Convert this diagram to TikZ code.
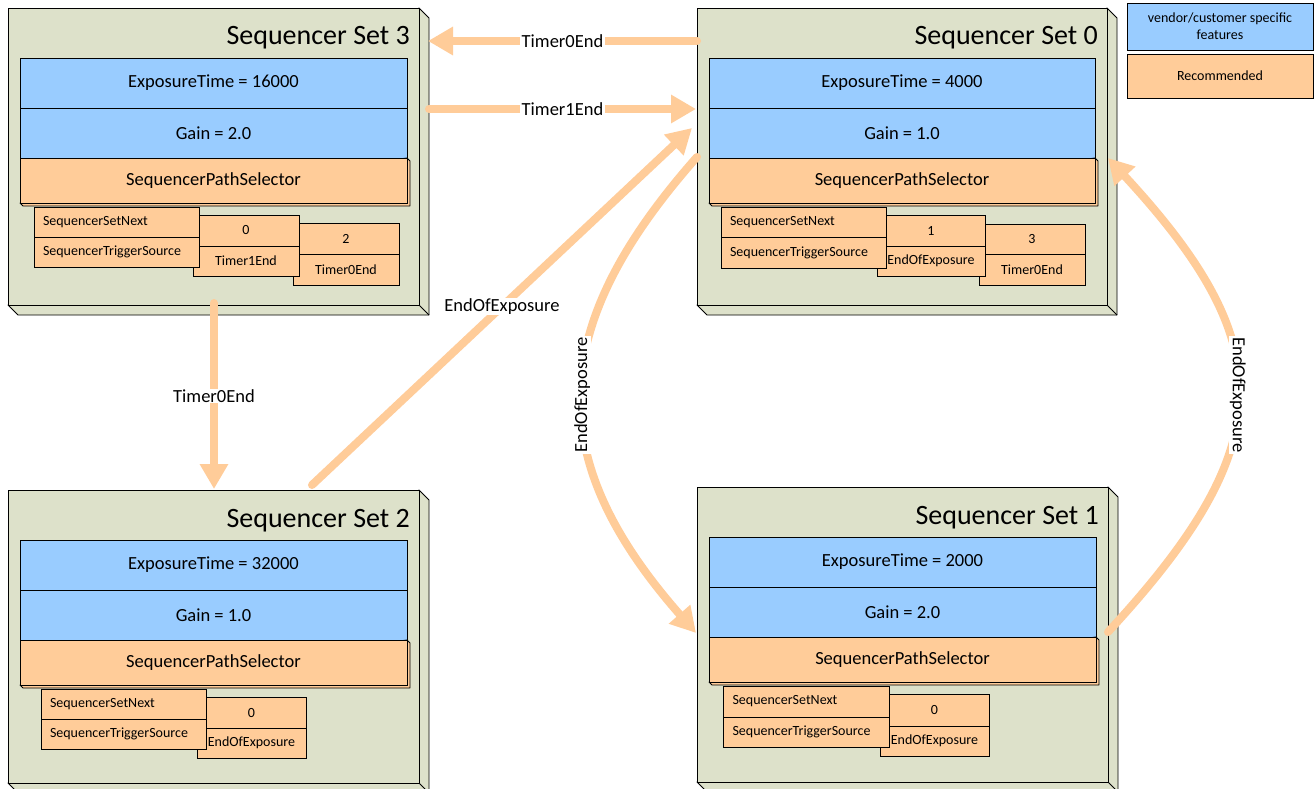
\documentclass[tikz,border=0pt]{standalone}
\usepackage{fontspec}
\setmainfont{Carlito}
\usetikzlibrary{arrows.meta}
\definecolor{boxc}{RGB}{221,225,202}
\definecolor{bluec}{RGB}{153,204,255}
\definecolor{orc}{RGB}{255,204,153}
\tikzset{
 faceline/.style={draw=black, line width=0.8pt, line join=round},
 setbox/.style={draw=black, fill=boxc, line width=0.8pt, inner sep=0pt, outer sep=0pt, anchor=north west},
 rowbox/.style={draw=black, line width=0.8pt, inner sep=0pt, outer sep=0pt, anchor=north west, font=\fontsize{18.5}{22}\selectfont},
 cellbox/.style={draw=black, fill=orc, line width=0.8pt, inner sep=0pt, outer sep=0pt, anchor=north west, font=\fontsize{14}{16}\selectfont},
 lcell/.style={align=left, text width=147pt, inner xsep=9pt},
 ccell/.style={align=center},
 arr/.style={draw=orc, line width=8pt, line cap=round, -{Triangle[length=25pt,width=27pt]}},
 lab/.style={fill=white, inner xsep=1.5pt, inner ysep=1pt, font=\fontsize{18.5}{22}\selectfont, text=black},
}
% #1 name #2 X #3 Y #4 X2 #5 Y2 #6 number #7 exposure #8 gain
\newcommand\seqset[8]{%
 \filldraw[fill=boxc, faceline] (#4,#3) -- (#4+10,#3+10) -- (#4+10,#5+10) -- (#2+10,#5+10) -- (#2,#5) -- cycle;
 \draw[faceline] (#4,#5) -- (#4+10,#5+10);
 \node[setbox, minimum width={(#4-#2)*1pt}, minimum height={(#5-#3)*1pt}] (#1) at (#2,#3) {};
 \node[anchor=base east, inner sep=0pt, font=\fontsize{28}{32}\selectfont] (#1-title) at (#4-9,#3+37) {Sequencer Set #6};
 \node[rowbox, fill=bluec, minimum width={(#4-#2-24)*1pt}, minimum height=50pt] (#1-exp) at (#2+12,#3+50) {ExposureTime = #7};
 \node[rowbox, fill=bluec, minimum width={(#4-#2-24)*1pt}, minimum height=50pt] (#1-gain) at (#2+12,#3+100) {Gain = #8};
 \filldraw[fill=orc, faceline] (#4-12,#3+150) -- (#4-9,#3+153) -- (#4-9,#3+198) -- (#2+15,#3+198) -- (#2+12,#3+195) -- cycle;
 \node[rowbox, fill=orc, minimum width={(#4-#2-24)*1pt}, minimum height=45pt] (#1-path) at (#2+12,#3+150) {SequencerPathSelector};
}
% #1 style #2 name #3 x1 #4 y1 #5 x2 #6 ymid #7 y2 #8 top #9 bottom
\newcommand\cellpair[9]{%
 \node[cellbox, #1, minimum width={(#5-#3)*1pt}, minimum height={(#6-#4)*1pt}] (#2t) at (#3,#4) {#8};
 \node[cellbox, #1, minimum width={(#5-#3)*1pt}, minimum height={(#7-#6)*1pt}] (#2b) at (#3,#6) {#9};
}
\begin{document}
\begin{tikzpicture}[x=1pt, y=-1pt]
\useasboundingbox (0,0) rectangle (1315,789);
\clip (0,0) rectangle (1315,789);
\fill[white] (0,0) rectangle (1315,789);

% Sequencer Set 3
\seqset{s3}{8}{8}{419}{305}{3}{16000}{2.0}
\cellpair{ccell}{s3b}{293}{223}{399}{254}{285}{2}{Timer0End}
\cellpair{ccell}{s3a}{193}{215}{299}{246}{276}{0}{Timer1End}
\cellpair{lcell}{s3l}{34}{207}{199}{237}{267}{SequencerSetNext}{SequencerTriggerSource}

% Sequencer Set 0
\seqset{s0}{697}{8}{1107}{305}{0}{4000}{1.0}
\cellpair{ccell}{s0b}{979}{224}{1085}{254}{285}{3}{Timer0End}
\cellpair{ccell}{s0a}{877}{215}{985}{246}{276}{1}{EndOfExposure}
\cellpair{lcell}{s0l}{721}{207}{886}{237}{268}{SequencerSetNext}{SequencerTriggerSource}

% Sequencer Set 2
\seqset{s2}{8}{490}{419}{783}{2}{32000}{1.0}
\cellpair{ccell}{s2a}{197}{697}{306}{728}{758}{0}{EndOfExposure}
\cellpair{lcell}{s2l}{41}{689}{206}{719}{749}{SequencerSetNext}{SequencerTriggerSource}

% Sequencer Set 1
\seqset{s1}{697}{487}{1108}{782}{1}{2000}{2.0}
\cellpair{ccell}{s1a}{880}{694}{989}{726}{756}{0}{EndOfExposure}
\cellpair{lcell}{s1l}{723}{686}{889}{717}{747}{SequencerSetNext}{SequencerTriggerSource}

% Legend
\node[rowbox, fill=bluec, font=\fontsize{14}{17}\selectfont, align=center, minimum width=186pt, minimum height=47pt] (leg1) at (1127,3) {vendor/customer specific\\features};
\node[rowbox, fill=orc, font=\fontsize{14}{17}\selectfont, minimum width=186pt, minimum height=44pt] (leg2) at (1127,54) {Recommended};

% Connectors
\draw[arr] ([yshift=-33pt]s0.north west) -- node[lab] {Timer0End} ([xshift=9pt,yshift=-33pt]s3.north east);
\draw[arr] ([xshift=10pt,yshift=-101pt]s3.north east) -- node[lab] {Timer1End} ([xshift=-1pt,yshift=-101pt]s0.north west);
\draw[arr] ([xshift=206pt,yshift=2pt]s3.south west) -- node[lab] {Timer0End} ([xshift=206pt,yshift=1pt]s2.north west);
\draw[arr] ([xshift=304pt,yshift=5pt]s2.north west) -- node[lab] {EndOfExposure} ([xshift=-5pt,yshift=-120pt]s0.north west);
\draw[arr] ([yshift=-149pt]s0.north west) .. controls +(-153,173) and +(-152,-173) .. node[lab, rotate=90] {EndOfExposure} ([xshift=-1pt,yshift=-146pt]s1.north west);
\draw[arr] ([yshift=-145pt]s1.north east) .. controls +(173,-187) and +(173,187) .. node[lab, rotate=-90] {EndOfExposure} ([xshift=1pt,yshift=-150pt]s0.north east);
\end{tikzpicture}
\end{document}
